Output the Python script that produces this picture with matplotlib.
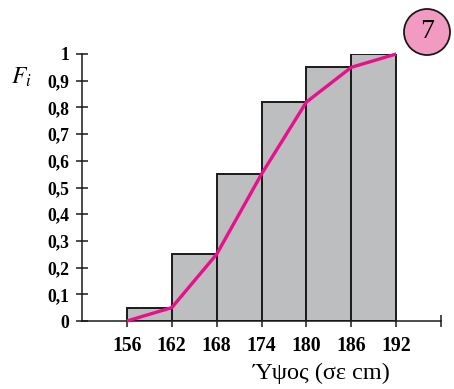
import matplotlib
matplotlib.use("Agg")
import matplotlib.pyplot as plt
from matplotlib.patches import Circle

plt.rcParams["mathtext.fontset"] = "stix"

# class edges and cumulative relative frequencies F_i
edges = [156, 162, 168, 174, 180, 186, 192]
F = [0.05, 0.25, 0.55, 0.82, 0.95, 1.0]
ogive_y = [0.0] + F
yticks = [0, 0.1, 0.2, 0.3, 0.4, 0.5, 0.6, 0.7, 0.8, 0.9, 1]
ytick_labels = ["0", "0,1", "0,2", "0,3", "0,4", "0,5", "0,6", "0,7", "0,8", "0,9", "1"]
xticks = [156, 162, 168, 174, 180, 186, 192, 198]
xtick_labels = ["156", "162", "168", "174", "180", "186", "192", ""]

fig = plt.figure(figsize=(4.54, 3.89), dpi=100)
ax = fig.add_axes([82/454, 1 - 321/389, (441 - 82)/454, (321 - 54)/389])

widths = [edges[i+1] - edges[i] for i in range(len(F))]
ax.bar(edges[:-1], F, width=widths, align="edge",
       color="#bdbec0", edgecolor="#1a1a1a", lw=1.4, zorder=2)
ax.plot(edges, ogive_y, color="#e8108c", lw=2.4, zorder=3,
        solid_capstyle="butt", clip_on=False)

ax.set_xlim(150, 198)
ax.set_ylim(0, 1)
for s in ["top", "right"]:
    ax.spines[s].set_visible(False)
for s in ["left", "bottom"]:
    ax.spines[s].set_linewidth(1.1)
    ax.spines[s].set_color("#1a1a1a")

ax.set_yticks(yticks)
ax.set_yticklabels(ytick_labels, fontfamily="Liberation Serif",
                   fontweight="bold", fontsize=12.7)
ax.set_xticks(xticks)
ax.set_xticklabels(xtick_labels, fontfamily="Liberation Serif",
                   fontweight="bold", fontsize=14.2)
ax.tick_params(axis="both", direction="inout", length=8, width=1.1,
               color="#1a1a1a")
ax.tick_params(axis="y", pad=5)
ax.tick_params(axis="x", pad=7)

ax.text(-0.17, 0.914, "$F_i$", transform=ax.transAxes,
        ha="center", va="center", fontsize=17)
ax.text(0.668, -0.198, "Ύψος (σε cm)", transform=ax.transAxes,
        ha="center", va="center", fontfamily="Liberation Serif", fontsize=17.5)

# numbered badge in the top-right corner
circ = Circle((4.27, (389 - 32) / 100), 0.23, transform=fig.dpi_scale_trans,
              facecolor="#f39ac2", edgecolor="#1a1a1a", lw=1.3)
fig.patches.append(circ)
fig.text(427/454, 1 - 32/389, "7", ha="center", va="center",
         fontfamily="Liberation Serif", fontsize=20)

fig.savefig("out.png", dpi=100)
